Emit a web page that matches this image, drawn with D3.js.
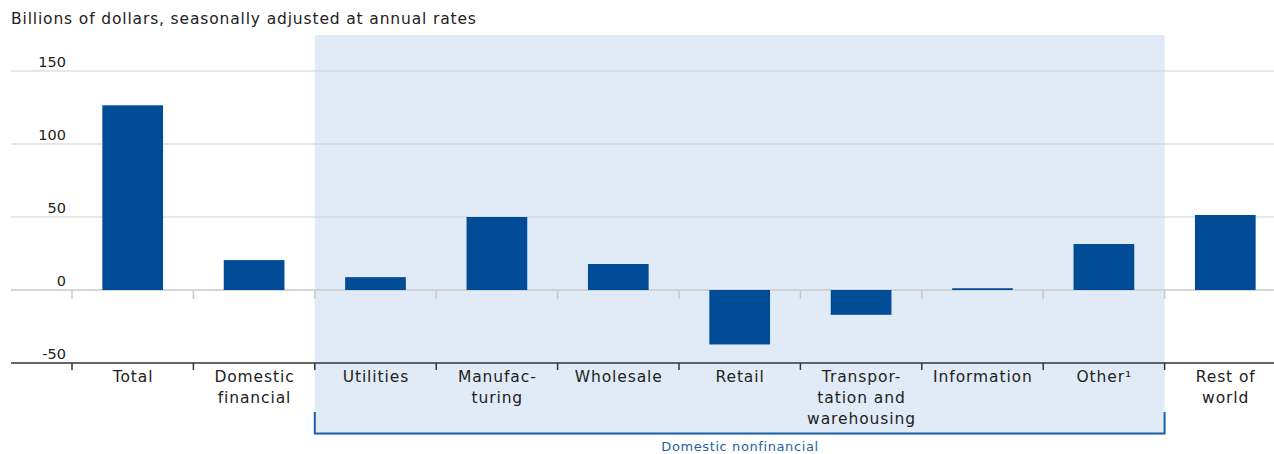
<!DOCTYPE html>
<html><head><meta charset="utf-8">
<script src="https://cdn.jsdelivr.net/npm/d3@7/dist/d3.min.js"></script>
<style>body{margin:0;background:#fff;} text{font-family:"DejaVu Sans",sans-serif;}</style>
</head><body><svg id="c" width="1274" height="454"></svg>
<script>
const categories = ["Total","Domestic financial","Utilities","Manufacturing","Wholesale","Retail","Transportation and warehousing","Information","Other","Rest of world"];
const labelLines = [["Total"],["Domestic","financial"],["Utilities"],["Manufac-","turing"],["Wholesale"],["Retail"],["Transpor-","tation and","warehousing"],["Information"],["Other\u00b9"],["Rest of","world"]];
const values = [126.5, 20.5, 8.8, 50, 17.8, -37.3, -17, 1.2, 31.5, 51.4];
const yTicks = [-50, 0, 50, 100, 150];
const title = "Billions of dollars, seasonally adjusted at annual rates";
const groupLabel = "Domestic nonfinancial";
const groupFirst = 2, groupLast = 8;

const svg = d3.select("#c");
const x = d3.scaleBand().domain(categories).range([72, 1286]).paddingInner(0.5).paddingOuter(0.25);
const xb = d3.scaleBand().domain(categories).range([72, 1286]);
const y = d3.scaleLinear().domain([-50, 150]).range([363, 71]);

// shaded group
const gx0 = xb(categories[groupFirst]), gx1 = xb(categories[groupLast]) + xb.bandwidth();
svg.append("rect").attr("x", gx0).attr("y", 35).attr("width", gx1 - gx0).attr("height", 400).attr("fill", "#e1ebf7");

// gridlines
svg.append("g").selectAll("line").data(yTicks.filter(d => d !== -50)).join("line")
  .attr("x1", 11).attr("x2", 1274).attr("y1", d => y(d)).attr("y2", d => y(d))
  .attr("stroke", d => d === 0 ? "#c8c8c8" : "#cfcfcf").attr("stroke-width", d => d === 0 ? 1.6 : 1);

// y labels
svg.append("g").selectAll("text").data(yTicks).join("text")
  .attr("x", 66).attr("y", d => y(d) - 4).attr("text-anchor", "end")
  .attr("font-size", 14.5).attr("fill", "#222").text(d => d);

// bars
svg.append("g").selectAll("rect").data(values).join("rect")
  .attr("x", (d, i) => x(categories[i])).attr("width", x.bandwidth())
  .attr("y", d => y(Math.max(0, d))).attr("height", d => Math.max(1.5, Math.abs(y(d) - y(0))))
  .attr("fill", "#004c97");

// tick marks
const bounds = categories.map(c => xb(c));
svg.append("g").selectAll("line").data(bounds).join("line")
  .attr("x1", d => d).attr("x2", d => d).attr("y1", y(0) + 1).attr("y2", y(0) + 9)
  .attr("stroke", "#c8c8c8").attr("stroke-width", 1.5);
// bottom axis line
svg.append("line").attr("x1", 11).attr("x2", 1274).attr("y1", y(-50)).attr("y2", y(-50))
  .attr("stroke", "#333").attr("stroke-width", 1.6);
svg.append("g").selectAll("line").data(bounds).join("line")
  .attr("x1", d => d).attr("x2", d => d).attr("y1", y(-50)).attr("y2", y(-50) + 7)
  .attr("stroke", "#333").attr("stroke-width", 1.5);

// category labels
const lg = svg.append("g");
labelLines.forEach((lines, i) => {
  const cx = xb(categories[i]) + xb.bandwidth() / 2;
  lines.forEach((t, j) => {
    lg.append("text").attr("x", cx + 0.4).attr("y", 382 + j * 21).attr("text-anchor", "middle")
      .attr("font-size", 15.5).attr("letter-spacing", 0.9).attr("fill", "#222").text(t);
  });
});

// bracket
svg.append("path").attr("d", `M${gx0},412V433.5H${gx1}V412`).attr("fill", "none")
  .attr("stroke", "#1f5fa8").attr("stroke-width", 2);
svg.append("text").attr("x", (gx0 + gx1) / 2 + 0.3).attr("y", 451).attr("text-anchor", "middle")
  .attr("font-size", 13).attr("letter-spacing", 0.6).attr("fill", "#1f5fa8").text(groupLabel);

// title
svg.append("text").attr("x", 11).attr("y", 24).attr("font-size", 15.5).attr("letter-spacing", 0.85)
  .attr("fill", "#222").text(title);
</script></body></html>
